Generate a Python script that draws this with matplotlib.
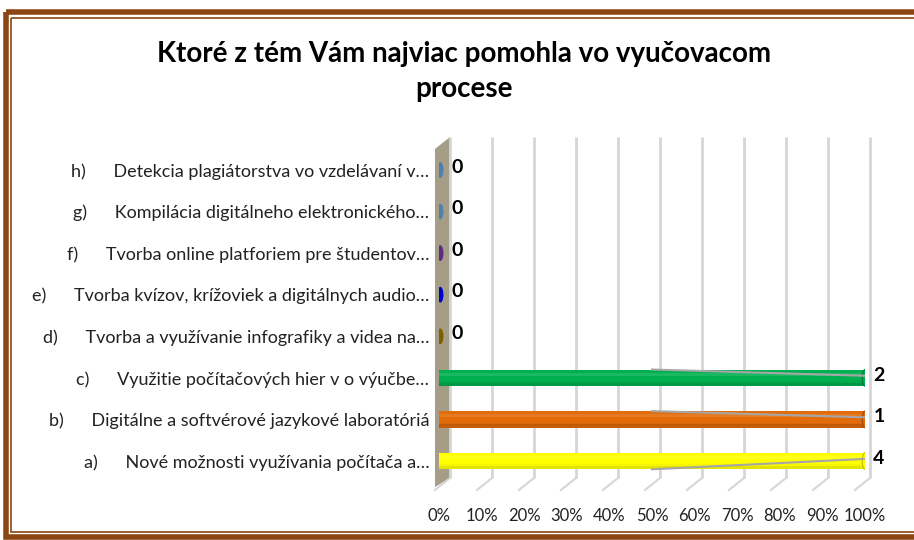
import numpy as np
import matplotlib
matplotlib.use("Agg")
import matplotlib.pyplot as plt
from matplotlib.patches import Ellipse, Polygon, Rectangle

# data (a..h, bottom to top)
prefixes = ["a)", "b)", "c)", "d)", "e)", "f)", "g)", "h)"]
labels = [
    "Nové možnosti využívania počítača a…",
    "Digitálne a softvérové jazykové laboratóriá",
    "Využitie počítačových hier v o výučbe…",
    "Tvorba a využívanie infografiky a videa na…",
    "Tvorba kvízov, krížoviek a digitálnych audio…",
    "Tvorba online platforiem pre študentov…",
    "Kompilácia digitálneho elektronického…",
    "Detekcia plagiátorstva vo vzdelávaní v…",
]
counts = [4, 1, 2, 0, 0, 0, 0, 0]
colors = ["#FFFF00", "#E36C0A", "#00B050", "#7F6000", "#0000CC", "#5B2C82", "#4F81AA", "#4D80AC"]
darks = ["#BDBD00", "#9A4606", "#00753A", "#5A4400", "#00008A", "#3E1D5A", "#35597A", "#35597A"]
xticks = list(range(0, 101, 10))

TITLE = "Ktoré z tém Vám najviac pomohla vo vyučovacom\nprocese"

plt.rcParams["font.family"] = ["Lato", "DejaVu Sans"]

fig = plt.figure(figsize=(9.14, 5.40), dpi=100)

# background / decoration in pixel coordinates
bg = fig.add_axes([0, 0, 1, 1], zorder=0)
bg.set_xlim(0, 914)
bg.set_ylim(540, 0)
bg.axis("off")

# frame
bg.add_patch(Rectangle((6, 12), 930, 525, fill=False, edgecolor="#8B4513", lw=4))
bg.add_patch(Rectangle((11, 18), 930, 514, fill=False, edgecolor="#8B4513", lw=1.2))

# gridlines (back wall) and floor
for p in xticks:
    xb = 450 + 4.2 * p
    bg.plot([xb, xb], [137, 478], color="#D6D6D6", lw=2, solid_capstyle="butt")
    bg.plot([xb, xb - 15], [478, 490], color="#D6D6D6", lw=1.5)

# side wall
bg.add_patch(Polygon([(435, 149), (450, 137), (450, 478), (435, 487)],
                     closed=True, facecolor="#A59D86", edgecolor="none"))

fig.text(0.508, 0.868, TITLE, ha="center", va="center", fontsize=20,
         fontweight="bold", linespacing=1.45)

# main axes: 0% -> 439 px, 100% -> 865 px
ax = fig.add_axes([439 / 914, 50 / 540, 426 / 914, 360 / 540], zorder=1)
ax.patch.set_alpha(0)
for s in ax.spines.values():
    s.set_visible(False)
ax.set_xlim(0, 100)
ax.set_ylim(-0.698, 7.962)

y = np.arange(len(counts))
cnt = np.array(counts, dtype=float)
pct = np.where(cnt > 0, 100.0, 0.0)  # 100% stacked, single series
h = 0.40

for i in range(len(counts)):
    c, d = colors[i], darks[i]
    if pct[i] > 0:
        ax.barh(y[i], pct[i], height=h, color=c, zorder=2)
        ax.barh(y[i] - h * 0.40, pct[i], height=h * 0.20, color=d, alpha=0.40, zorder=3, lw=0)
        ax.barh(y[i] - h * 0.26, pct[i], height=h * 0.10, color=d, alpha=0.12, zorder=3, lw=0)
        ax.barh(y[i] + h * 0.22, pct[i], height=h * 0.16, color="white", alpha=0.10, zorder=3, lw=0)
        ax.add_patch(Ellipse((0, y[i]), 1.3, h, facecolor=c, edgecolor="none", zorder=2))
        ax.add_patch(Ellipse((pct[i], y[i]), 1.3, h, facecolor=c, edgecolor=d, lw=0.8, zorder=4))
        # leader line
        y0 = y[i] - h / 2 if i == 0 else y[i] + h / 2
        ax.plot([50, pct[i]], [y0, y[i] + 0.05], color="#A6A6A6", lw=1.5, zorder=5)
        ax.annotate(str(counts[i]), (pct[i], y[i]), xytext=(6, 2), textcoords="offset points",
                    ha="left", va="center", fontsize=14, fontweight="bold", zorder=6)
    else:
        ax.add_patch(Ellipse((0.3, y[i]), 1.5, 0.38, facecolor=c, edgecolor="none", zorder=4))
        ax.annotate(str(counts[i]), (0, y[i]), xytext=(9, 2), textcoords="offset points",
                    ha="left", va="center", fontsize=14, fontweight="bold", zorder=6)

ax.set_yticks(y)
ax.set_yticklabels([f"{p}      {t}" for p, t in zip(prefixes, labels)], fontsize=13, color="#222222")
ax.set_xticks(xticks)
ax.set_xticklabels([f"{t}%" for t in xticks], fontsize=12, color="#222222")
ax.tick_params(axis="y", length=0, pad=7)
ax.tick_params(axis="x", length=0, pad=13)

fig.savefig("out.png", dpi=100)
